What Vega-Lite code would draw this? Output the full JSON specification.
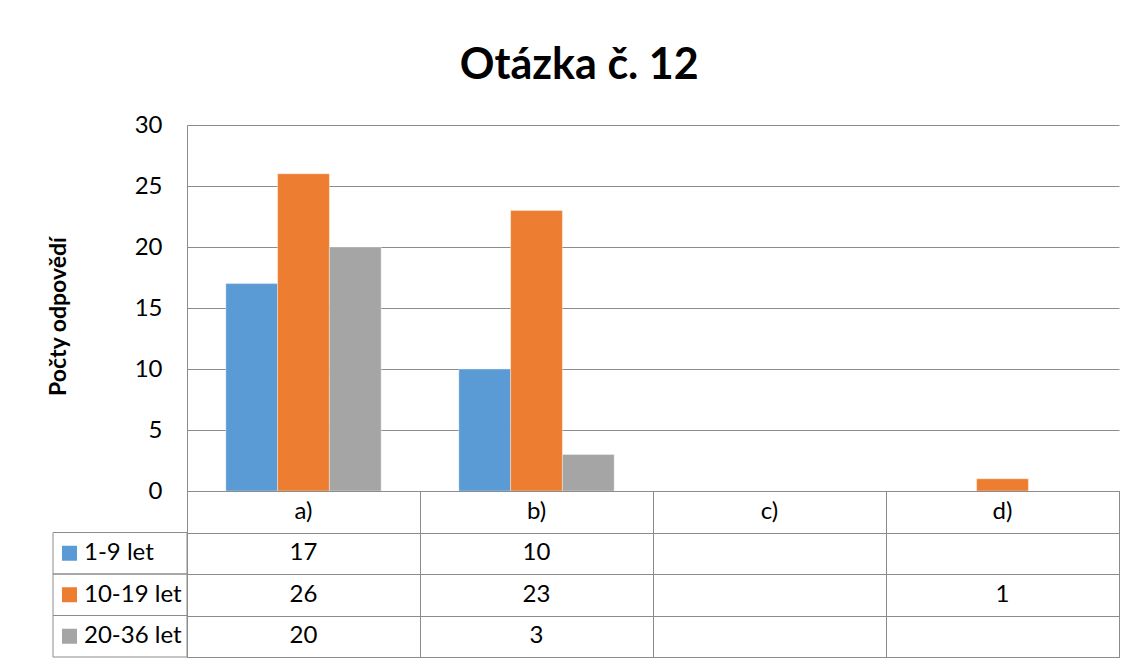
{
  "$schema": "https://vega.github.io/schema/vega-lite/v6.json",
  "background": "white",
  "padding": {"left": 47, "top": 45, "right": 15, "bottom": 0},
  "title": {"text": "Otázka č. 12", "font": "Lato", "fontSize": 43, "fontWeight": "bold", "color": "black", "anchor": "middle", "offset": 25, "dx": -4},
  "datasets": {
    "answers": [
      {"otazka": "a)", "vek": "1-9 let", "pocet": 17},
      {"otazka": "a)", "vek": "10-19 let", "pocet": 26},
      {"otazka": "a)", "vek": "20-36 let", "pocet": 20},
      {"otazka": "b)", "vek": "1-9 let", "pocet": 10},
      {"otazka": "b)", "vek": "10-19 let", "pocet": 23},
      {"otazka": "b)", "vek": "20-36 let", "pocet": 3},
      {"otazka": "d)", "vek": "10-19 let", "pocet": 1}
    ],
    "otazky": [{"otazka": "a)"}, {"otazka": "b)"}, {"otazka": "c)"}, {"otazka": "d)"}],
    "skupiny": [{"vek": "1-9 let"}, {"vek": "10-19 let"}, {"vek": "20-36 let"}]
  },
  "columns": 2,
  "spacing": 0,
  "bounds": "flush",
  "resolve": {"scale": {"x": "independent", "y": "independent", "color": "independent"}},
  "concat": [
    {
      "width": 134, "height": 366,
      "data": {"values": []},
      "mark": "text",
      "encoding": {}
    },
    {
      "width": 932, "height": 366,
      "data": {"name": "answers"},
      "mark": {"type": "bar", "stroke": "white", "strokeWidth": 0.6, "strokeOpacity": 0.6},
      "encoding": {
        "x": {"field": "otazka", "type": "nominal", "scale": {"domain": ["a)", "b)", "c)", "d)"], "paddingInner": 0, "paddingOuter": 0}, "axis": null},
        "xOffset": {"field": "vek", "type": "nominal", "scale": {"domain": ["1-9 let", "10-19 let", "20-36 let"], "paddingInner": 0, "paddingOuter": 0.75}},
        "y": {"field": "pocet", "type": "quantitative", "scale": {"domain": [0, 30], "nice": false},
          "axis": {"values": [0, 5, 10, 15, 20, 25, 30], "grid": true, "gridColor": "#8c8c8c", "gridWidth": 1, "ticks": false, "domain": true, "domainColor": "#8c8c8c", "domainWidth": 1,
            "labelFont": "Lato", "labelFontSize": 24, "labelColor": "black", "labelPadding": 25,
            "title": "Počty odpovědí", "titleFont": "Lato", "titleFontSize": 23, "titleFontWeight": "bold", "titleColor": "black", "titleX": -117, "titleY": 191}},
        "color": {"field": "vek", "type": "nominal", "scale": {"domain": ["1-9 let", "10-19 let", "20-36 let"], "range": ["#5B9BD5", "#ED7D31", "#A5A5A5"]}, "legend": null}
      }
    },
    {
      "width": 134, "height": 166,
      "data": {"name": "skupiny"},
      "layer": [
        {
          "mark": {"type": "rect", "fill": "transparent", "stroke": "#8c8c8c", "strokeWidth": 1},
          "encoding": {
            "y": {"field": "vek", "type": "nominal", "scale": {"domain": ["otázka", "1-9 let", "10-19 let", "20-36 let"], "paddingInner": 0, "paddingOuter": 0}, "axis": null}
          }
        },
        {
          "mark": {"type": "point", "shape": "square", "filled": true, "size": 225, "opacity": 1, "xOffset": -50.5},
          "encoding": {
            "y": {"field": "vek", "type": "nominal", "scale": {"domain": ["otázka", "1-9 let", "10-19 let", "20-36 let"], "paddingInner": 0, "paddingOuter": 0}, "axis": null},
            "color": {"field": "vek", "type": "nominal", "scale": {"domain": ["1-9 let", "10-19 let", "20-36 let"], "range": ["#5B9BD5", "#ED7D31", "#A5A5A5"]}, "legend": null}
          }
        },
        {
          "mark": {"type": "text", "align": "left", "dx": -36, "font": "Lato", "fontSize": 24, "color": "black"},
          "encoding": {
            "y": {"field": "vek", "type": "nominal", "scale": {"domain": ["otázka", "1-9 let", "10-19 let", "20-36 let"], "paddingInner": 0, "paddingOuter": 0}, "axis": null},
            "text": {"field": "vek", "type": "nominal"}
          }
        }
      ]
    },
    {
      "width": 932, "height": 166,
      "view": {"stroke": "#8c8c8c", "strokeWidth": 1},
      "encoding": {
        "x": {"field": "otazka", "type": "nominal", "scale": {"domain": ["a)", "b)", "c)", "d)"], "paddingInner": 0, "paddingOuter": 0},
          "axis": {"grid": true, "gridColor": "#8c8c8c", "gridWidth": 1, "tickBand": "extent", "labels": false, "ticks": false, "domain": false, "title": null}}
      },
      "layer": [
        {
          "data": {"name": "otazky"},
          "mark": {"type": "text", "font": "Lato", "fontSize": 24, "color": "black"},
          "encoding": {
            "y": {"datum": "otázka", "type": "nominal", "scale": {"domain": ["otázka", "1-9 let", "10-19 let", "20-36 let"], "paddingInner": 0, "paddingOuter": 0},
              "axis": {"grid": true, "gridColor": "#8c8c8c", "gridWidth": 1, "tickBand": "extent", "labels": false, "ticks": false, "domain": false, "title": null}},
            "text": {"field": "otazka", "type": "nominal"}
          }
        },
        {
          "data": {"name": "answers"},
          "mark": {"type": "text", "font": "Lato", "fontSize": 24, "color": "black"},
          "encoding": {
            "y": {"field": "vek", "type": "nominal", "scale": {"domain": ["otázka", "1-9 let", "10-19 let", "20-36 let"], "paddingInner": 0, "paddingOuter": 0},
              "axis": {"grid": true, "gridColor": "#8c8c8c", "gridWidth": 1, "tickBand": "extent", "labels": false, "ticks": false, "domain": false, "title": null}},
            "text": {"field": "pocet", "type": "quantitative"}
          }
        }
      ]
    }
  ],
  "config": {
    "font": "Lato",
    "view": {"stroke": null}
  }
}
